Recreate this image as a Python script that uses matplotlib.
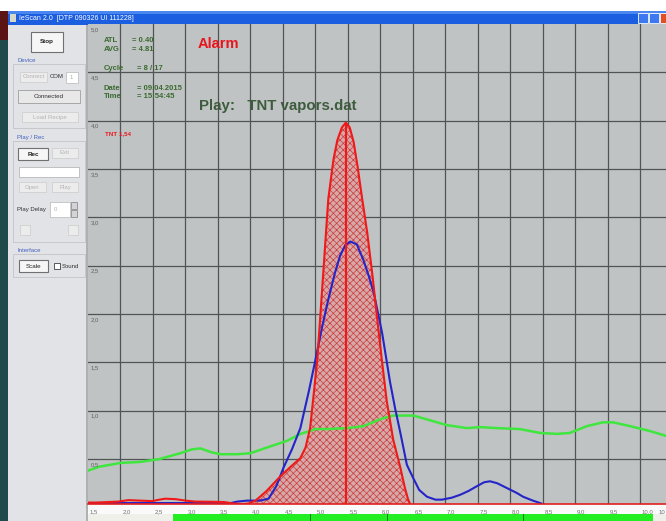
import matplotlib
matplotlib.use("Agg")
from matplotlib import pyplot as plt
from matplotlib.patches import Rectangle
import numpy as np

plt.rcParams['font.family'] = ['Liberation Sans', 'DejaVu Sans']
plt.rcParams['hatch.linewidth'] = 0.5

# spectrum data (drift time / signal)
green_x = [1.5, 1.67, 2.0, 2.3, 2.6, 2.92, 3.1, 3.23, 3.4, 3.54, 3.8, 4.0, 4.26, 4.57, 4.77, 4.92, 5.0, 5.2,
           5.49, 5.74, 6.03, 6.2, 6.51, 6.77, 7.03, 7.34, 7.54, 7.8, 8.15, 8.46, 8.72, 8.92, 9.18, 9.43, 9.58,
           9.85, 10.15, 10.4]
green_y = [0.38, 0.42, 0.46, 0.47, 0.5, 0.56, 0.6, 0.61, 0.57, 0.55, 0.55, 0.56, 0.62, 0.69, 0.76, 0.79, 0.81, 0.81,
           0.82, 0.84, 0.92, 0.95, 0.95, 0.9, 0.85, 0.82, 0.83, 0.82, 0.81, 0.77, 0.76, 0.77, 0.84, 0.88, 0.88,
           0.84, 0.79, 0.74]

blue_x = [1.5, 3.7, 3.8, 3.95, 4.15, 4.28, 4.4, 4.51, 4.64, 4.77, 4.9, 5.0, 5.1, 5.2, 5.3, 5.38, 5.46, 5.54,
          5.64, 5.74, 5.82, 5.9, 6.03, 6.15, 6.23, 6.31, 6.41, 6.51, 6.6, 6.72, 6.85, 6.95, 7.1, 7.23, 7.36,
          7.49, 7.6, 7.69, 7.8, 7.95, 8.1, 8.2, 8.35, 8.46, 8.56, 10.4]
blue_y = [0.045, 0.045, 0.06, 0.07, 0.07, 0.09, 0.22, 0.41, 0.6, 0.82, 1.2, 1.52, 1.85, 2.15, 2.42, 2.6, 2.71, 2.75,
          2.72, 2.56, 2.4, 2.22, 1.8, 1.3, 1.02, 0.77, 0.44, 0.3, 0.18, 0.11, 0.08, 0.08, 0.1, 0.13, 0.17,
          0.22, 0.26, 0.27, 0.25, 0.2, 0.15, 0.11, 0.07, 0.045, 0.02, 0.02]

red_x = [1.5, 1.62, 1.8, 1.97, 2.12, 2.3, 2.49, 2.6, 2.69, 2.85, 3.0, 3.15, 3.4, 3.6, 3.74, 3.88, 3.97, 4.08,
         4.25, 4.46, 4.62, 4.77, 4.85, 4.92, 5.03, 5.12, 5.2, 5.28, 5.34, 5.41, 5.47, 5.53, 5.59, 5.65, 5.72,
         5.8, 5.88, 5.95, 6.02, 6.1, 6.2, 6.31, 6.38, 6.43, 6.47, 7.0, 8.0, 9.0, 10.4]
red_y = [0.05, 0.05, 0.055, 0.06, 0.075, 0.07, 0.065, 0.08, 0.09, 0.085, 0.07, 0.06, 0.058, 0.055, 0.04, 0.035, 0.04,
         0.07, 0.17, 0.32, 0.42, 0.51, 0.62, 0.82, 1.52, 2.4, 3.19, 3.6, 3.8, 3.93, 3.98, 3.93, 3.78, 3.53, 3.2,
         2.84, 2.4, 1.97, 1.55, 1.1, 0.7, 0.41, 0.2, 0.08, 0.02, 0.02, 0.02, 0.02, 0.02]

x_ticks = [2.0, 2.5, 3.0, 3.5, 4.0, 4.5, 5.0, 5.5, 6.0, 6.5, 7.0, 7.5, 8.0, 8.5, 9.0, 9.5, 10.0]
x_labels = ["1,5", "2,0", "2,5", "3,0", "3,5", "4,0", "4,5", "5,0", "5,5", "6,0", "6,5", "7,0", "7,5",
            "8,0", "8,5", "9,0", "9,5", "10,0"]
y_ticks = [0.5, 1.0, 1.5, 2.0, 2.5, 3.0, 3.5, 4.0, 4.5]
y_labels = ["0,5", "1,0", "1,5", "2,0", "2,5", "3,0", "3,5", "4,0", "4,5", "5,0"]

W, H = 666, 521
fig = plt.figure(figsize=(W / 100, H / 100), dpi=100)
fig.patch.set_facecolor('#f4f4f4')

# ---- window / side panel drawn in pixel coords
ui = fig.add_axes([0, 0, 1, 1])
ui.set_xlim(0, W)
ui.set_ylim(H, 0)
ui.axis('off')
ui.set_zorder(0)


def box(x0, y0, x1, y1, fc, ec='none', lw=0.8, z=1):
    ui.add_patch(Rectangle((x0, y0), x1 - x0, y1 - y0, facecolor=fc, edgecolor=ec, lw=lw, zorder=z))


def txt(x, y, s, c='#202020', size=4.5, bold=False, ha='left', where=None):
    (where or ui).text(x, y, s, color=c, fontsize=size, fontweight='bold' if bold else 'normal',
                       ha=ha, va='center', zorder=5)


def button(x0, y0, x1, y1, label, enabled=True, bold=False):
    if enabled:
        box(x0, y0, x1, y1, '#f6f6f6', '#707070', 0.8, 3)
        txt((x0 + x1) / 2, (y0 + y1) / 2, label, '#202020', 4.5, bold, 'center')
    else:
        box(x0, y0, x1, y1, '#ececec', '#d0d0d0', 0.6, 3)
        txt((x0 + x1) / 2, (y0 + y1) / 2, label, '#b4b4b4', 4.3, False, 'center')


box(0, 0, W, 11, 'white')
box(0, 11, 8, H, '#1e4a4c')
box(0, 11, 8, 40, '#5a1414')
box(8, 24, 88, H, '#e2e3e6')
box(86, 24, 88, H, '#b0b0b0')
# title bar
box(8, 11, W, 25, '#1c5ee0')
box(8, 11, W, 14, '#4a86f0')
box(10, 14, 16, 22, '#d8d8c8')
txt(19, 18.5, 'IeScan 2.0  [DTP 090326 UI 111228]', 'white', 5)
box(638, 13, 648, 23, '#3c78f0', 'white', 0.6, 3)
box(649, 13, 659, 23, '#3c78f0', 'white', 0.6, 3)
box(660, 13, 670, 23, '#e05020', 'white', 0.6, 3)

button(31, 32, 63, 52, 'Stop', bold=True)

txt(17, 60, 'Device', '#4060c0', 4.3)
box(13, 64, 85, 128, 'none', '#c8c8cc', 0.7, 2)
button(20, 72, 47, 82, 'Connect', enabled=False)
txt(50, 77, 'COM', '#303030', 4.3)
box(66, 72, 78, 83, 'white', '#c0c0c0', 0.6, 3)
txt(70, 77.5, '1', '#b0b0b0', 4.3)
box(18, 90, 80, 103, '#e8e8e8', '#a8a8a8', 0.7, 3)
txt(49, 96.5, 'Connected', '#303030', 4.5, ha='center')
button(22, 112, 78, 122, 'Load Recipe', enabled=False)

txt(17, 137, 'Play / Rec', '#4060c0', 4.3)
box(13, 141, 85, 242, 'none', '#c8c8cc', 0.7, 2)
button(18, 148, 48, 160, 'Rec', bold=True)
button(52, 148, 78, 158, 'Exit', enabled=False)
box(19, 167, 79, 177, 'white', '#b8b8b8', 0.6, 3)
button(19, 182, 46, 192, 'Open', enabled=False)
button(52, 182, 78, 192, 'Play', enabled=False)
txt(17, 210, 'Play Delay', '#303030', 4.3)
box(50, 202, 70, 217, 'white', '#c0c0c0', 0.6, 3)
txt(54, 209.5, '0', '#b0b0b0', 4.3)
box(71, 202, 77, 209, '#d4d4d8', '#808080', 0.5, 3)
box(71, 210, 77, 217, '#d4d4d8', '#808080', 0.5, 3)
button(20, 225, 30, 235, '', enabled=False)
button(68, 225, 78, 235, '', enabled=False)

txt(17, 250, 'Interface', '#4060c0', 4.3)
box(13, 254, 85, 277, 'none', '#c8c8cc', 0.7, 2)
button(19, 260, 48, 272, 'Scale')
box(54, 263, 60, 269, 'white', '#404040', 0.6, 3)
txt(62, 266, 'Sound', '#303030', 4.3)

# strip below the chart
box(88, 504, W, 514, '#fafafa')
box(88, 514, W, H, '#f0f0ea')
box(173, 514, 653, H, '#22ee22')
for xd in [310, 387, 523]:
    box(xd, 514, xd + 1, H, '#108010', z=2)

# ---- chart
ax = fig.add_axes([88 / W, (H - 504) / H, (W - 88) / W, (504 - 24) / H])
ax.set_zorder(1)
ax.set_facecolor('#c0c3c3')
ax.set_xlim(1.5, 10.4)
ax.set_ylim(0.035, 5.0)
ax.set_xticks(x_ticks)
ax.set_yticks(y_ticks)
ax.tick_params(length=0, labelbottom=False, labelleft=False)
ax.grid(True, color='#505454', lw=0.9)
for s in ax.spines.values():
    s.set_visible(False)

rx = np.array(red_x)
ry = np.array(red_y)
ax.fill_between(rx, 0, ry, where=(rx >= 3.95) & (rx <= 6.5), facecolor='#d8a8a8',
                edgecolor='#c83c3c', hatch='xxxxx', lw=0, zorder=2)
ax.plot(green_x, green_y, color='#3ee63e', lw=1.8, zorder=3)
ax.plot(blue_x, blue_y, color='#2424c8', lw=1.5, zorder=4)
ax.plot(red_x, red_y, color='#f01818', lw=1.5, zorder=5)
peak = int(np.argmax(ry))
ax.vlines(rx[peak], 0, ry[peak], color='#f01818', lw=1.5, zorder=5)
ax.axhline(0.035, color='#e02020', lw=1.2, zorder=6, clip_on=False)

# tick labels, left-aligned at grid lines like the original software
for v, lab in zip([1.5] + x_ticks, x_labels):
    ax.text(v + 0.03, -0.012, lab, transform=ax.get_xaxis_transform(), fontsize=4.3,
            color='#707070', ha='left', va='top', clip_on=False)
for v, lab in zip(y_ticks + [5.0], y_labels):
    ax.text(0.005, v - 0.03, lab, transform=ax.get_yaxis_transform(), fontsize=4.3,
            color='#606060', ha='left', va='top')

# status texts, on top of the chart
top = fig.add_axes([0, 0, 1, 1])
top.set_xlim(0, W)
top.set_ylim(H, 0)
top.axis('off')
top.set_zorder(2)
txt(665, 512.5, '10', '#707070', 4.3, ha='right', where=top)

green_txt = '#3a6a30'
txt(104, 40, 'ATL', green_txt, 5.5, True, where=top)
txt(132, 40, '= 0.40', green_txt, 5.5, True, where=top)
txt(104, 49.5, 'AVG', green_txt, 5.5, True, where=top)
txt(132, 49.5, '= 4.81', green_txt, 5.5, True, where=top)
txt(104, 68, 'Cycle', green_txt, 5.5, True, where=top)
txt(137, 68, '= 8 / 17', green_txt, 5.5, True, where=top)
txt(104, 88, 'Date', green_txt, 5.5, True, where=top)
txt(137, 88, '= 09.04.2015', green_txt, 5.5, True, where=top)
txt(104, 97, 'Time', green_txt, 5.5, True, where=top)
txt(137, 97, '= 15:54:45', green_txt, 5.5, True, where=top)
txt(198, 44.5, 'Alarm', '#e8141c', 10.5, True, where=top)
txt(199, 106, 'Play:   TNT vapors.dat', '#3d5c3d', 10.8, True, where=top)
txt(105, 134, 'TNT 1,54', '#e8141c', 4.5, True, where=top)

fig.savefig('out.png', dpi=100)
